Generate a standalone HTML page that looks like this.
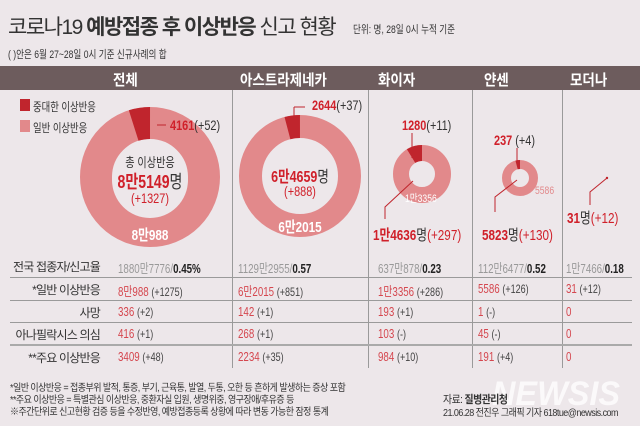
<!DOCTYPE html>
<html><head><meta charset="utf-8"><style>
*{margin:0;padding:0}
body{width:640px;height:426px;background:#ede7ea;position:relative;overflow:hidden;font-family:"Liberation Sans","Noto Sans CJK KR",sans-serif;color:#333}
.a{position:absolute;white-space:nowrap}
.s{transform:scaleX(.78);transform-origin:left top}
.sc{transform:scaleX(.78);transform-origin:center top}
.hd{position:absolute;top:66px;height:24px;background:#6d5c5d;left:0;width:640px}
.ht{position:absolute;top:69px;color:#fff;font-weight:bold;font-size:15px;white-space:nowrap;transform:scaleX(.9);transform-origin:left top}
.lb{position:absolute;right:540px;font-size:12px;color:#333;letter-spacing:-0.8px;white-space:nowrap}
.v{position:absolute;font-size:13px;color:#d5474f;white-space:nowrap;transform:scaleX(.75);transform-origin:left top}
.v i{font-style:normal;color:#444;font-size:12px}
.g{color:#999}.b{color:#222;font-weight:bold}
.ft{position:absolute;left:10px;font-size:10px;color:#333;letter-spacing:-0.6px;white-space:nowrap;transform:scaleX(.9);transform-origin:left top}
.r{color:#d0202a;font-weight:bold}
</style></head><body>
<div class="a" style="left:8px;top:11px;font-size:21px;color:#333;letter-spacing:-1.5px">코로나19 <b>예방접종 후 이상반응</b> 신고 현황</div>
<div class="a s" style="left:353px;top:21px;font-size:11px">단위: 명, 28일 0시 누적 기준</div>
<div class="a s" style="left:8px;top:46px;font-size:11px">( )안은 6월 27~28일 0시 기준 신규사례의 합</div>
<div class="hd"></div>
<div class="ht" style="left:113px">전체</div>
<div class="ht" style="left:240px">아스트라제네카</div>
<div class="ht" style="left:378px">화이자</div>
<div class="ht" style="left:484px">얀센</div>
<div class="ht" style="left:570px">모더나</div>

<svg class="a" style="left:0;top:0" width="640" height="426">
<g stroke="#9a9a9a" stroke-width="1">
<line x1="232.5" y1="90" x2="232.5" y2="368"/><line x1="368.5" y1="90" x2="368.5" y2="368"/>
<line x1="472.5" y1="90" x2="472.5" y2="368"/><line x1="562.5" y1="90" x2="562.5" y2="368"/>
<line x1="10" y1="277.5" x2="632" y2="277.5"/><line x1="10" y1="300.5" x2="632" y2="300.5"/>
<line x1="10" y1="322.5" x2="632" y2="322.5"/>
</g>
<line x1="10" y1="345" x2="632" y2="345" stroke="#aaa" stroke-width="2"/>
<rect x="20" y="99" width="10" height="12" fill="#c0252d"/>
<rect x="20" y="120" width="10" height="12" fill="#e2898b"/>
<circle cx="150" cy="177" r="54" fill="none" stroke="#e2898b" stroke-width="32"/>
<circle cx="150" cy="177" r="54" fill="none" stroke="#c0252d" stroke-width="32" stroke-dasharray="16.6 400" transform="rotate(-107.6 150 177)"/>
<circle cx="150" cy="180" r="38" fill="#ede7ea"/>
<line x1="157" y1="125" x2="166" y2="125" stroke="#c0252d"/>
<circle cx="300" cy="176" r="49.5" fill="none" stroke="#e2898b" stroke-width="23"/>
<circle cx="300" cy="176" r="49.5" fill="none" stroke="#c0252d" stroke-width="23" stroke-dasharray="12.7 400" transform="rotate(-104.7 300 176)"/>
<line x1="305" y1="107" x2="294" y2="107" stroke="#c0252d"/><line x1="294" y1="107" x2="294" y2="125" stroke="#c0252d"/>
<circle cx="422" cy="174" r="21" fill="none" stroke="#e2898b" stroke-width="16"/>
<circle cx="422" cy="174" r="21" fill="none" stroke="#c0252d" stroke-width="16" stroke-dasharray="11.5 400" transform="rotate(-121.4 422 174)"/>
<line x1="412" y1="133" x2="412" y2="158" stroke="#c0252d"/>
<polyline points="413,181 385,207 385,219" fill="none" stroke="#c0252d"/>
<circle cx="520" cy="178" r="13.5" fill="none" stroke="#e2898b" stroke-width="9"/>
<circle cx="520" cy="178" r="13.5" fill="none" stroke="#c0252d" stroke-width="9" stroke-dasharray="3.5 400" transform="rotate(-104.7 520 178)"/>
<line x1="517" y1="148" x2="517" y2="162" stroke="#c0252d"/>
<polyline points="517,180 495,197 495,212" fill="none" stroke="#c0252d"/>
<circle cx="607" cy="178" r="1.2" fill="#c0252d"/>
<polyline points="607,178 590,192 590,205" fill="none" stroke="#c0252d"/>
<text x="492" y="405" font-family="Liberation Sans" font-weight="bold" font-style="italic" font-size="34" fill="#fff" fill-opacity="0.75" textLength="128" lengthAdjust="spacingAndGlyphs">NEWSIS</text>
</svg>

<div class="a s" style="left:33px;top:98px;font-size:12px">중대한 이상반응</div>
<div class="a s" style="left:33px;top:119px;font-size:12px">일반 이상반응</div>

<div class="a s" style="left:170px;top:117px;font-size:14px"><span class="r">4161</span>(+52)</div>
<div class="a sc" style="left:90px;top:152px;width:120px;text-align:center;font-size:13px">총 이상반응</div>
<div class="a sc" style="left:90px;top:168px;width:120px;text-align:center;font-size:18px"><span class="r">8만5149</span>명</div>
<div class="a sc" style="left:90px;top:190px;width:120px;text-align:center;font-size:14px;color:#d0202a">(+1327)</div>
<div class="a sc" style="left:90px;top:224px;width:120px;text-align:center;font-size:15px;color:#fff;font-weight:bold">8만988</div>

<div class="a s" style="left:312px;top:97px;font-size:14px"><span class="r">2644</span>(+37)</div>
<div class="a sc" style="left:240px;top:163px;width:120px;text-align:center;font-size:16px"><span class="r">6만4659</span>명</div>
<div class="a sc" style="left:240px;top:183px;width:120px;text-align:center;font-size:14px;color:#d0202a">(+888)</div>
<div class="a sc" style="left:240px;top:216px;width:120px;text-align:center;font-size:15px;color:#fff;font-weight:bold">6만2015</div>

<div class="a s" style="left:402px;top:117px;font-size:14px"><span class="r">1280</span>(+11)</div>
<div class="a s" style="left:405px;top:190px;font-size:11px;color:#fff">1만3356</div>
<div class="a s" style="left:373px;top:224px;font-size:15px"><span class="r">1만4636</span>명<span style="color:#d0202a">(+297)</span></div>

<div class="a s" style="left:494px;top:132px;font-size:14px"><span class="r">237</span> (+4)</div>
<div class="a s" style="left:535px;top:185px;font-size:11px;color:#e2898b">5586</div>
<div class="a s" style="left:482px;top:224px;font-size:15px"><span class="r">5823</span>명<span style="color:#d0202a">(+130)</span></div>

<div class="a s" style="left:567px;top:207px;font-size:15px"><span class="r">31</span>명<span style="color:#d0202a">(+12)</span></div>

<div class="lb" style="top:258px">전국 접종자/신고율</div>
<div class="lb" style="top:281px">*일반 이상반응</div>
<div class="lb" style="top:304px">사망</div>
<div class="lb" style="top:326px">아나필락시스 의심</div>
<div class="lb" style="top:349px">**주요 이상반응</div>

<div class="v" style="left:118px;top:258px"><span class="g">1880만7776/</span><span class="b">0.45%</span></div>
<div class="v" style="left:238px;top:258px"><span class="g">1129만2955/</span><span class="b">0.57</span></div>
<div class="v" style="left:378px;top:258px"><span class="g">637만878/</span><span class="b">0.23</span></div>
<div class="v" style="left:478px;top:258px"><span class="g">112만6477/</span><span class="b">0.52</span></div>
<div class="v" style="left:566px;top:258px"><span class="g">1만7466/</span><span class="b">0.18</span></div>

<div class="v" style="left:118px;top:281px">8만988 <i>(+1275)</i></div>
<div class="v" style="left:238px;top:281px">6만2015 <i>(+851)</i></div>
<div class="v" style="left:378px;top:281px">1만3356 <i>(+286)</i></div>
<div class="v" style="left:478px;top:281px">5586 <i>(+126)</i></div>
<div class="v" style="left:566px;top:281px">31 <i>(+12)</i></div>

<div class="v" style="left:118px;top:304px">336 <i>(+2)</i></div>
<div class="v" style="left:238px;top:304px">142 <i>(+1)</i></div>
<div class="v" style="left:378px;top:304px">193 <i>(+1)</i></div>
<div class="v" style="left:478px;top:304px">1 <i>(-)</i></div>
<div class="v" style="left:566px;top:304px">0</div>

<div class="v" style="left:118px;top:326px">416 <i>(+1)</i></div>
<div class="v" style="left:238px;top:326px">268 <i>(+1)</i></div>
<div class="v" style="left:378px;top:326px">103 <i>(-)</i></div>
<div class="v" style="left:478px;top:326px">45 <i>(-)</i></div>
<div class="v" style="left:566px;top:326px">0</div>

<div class="v" style="left:118px;top:349px">3409 <i>(+48)</i></div>
<div class="v" style="left:238px;top:349px">2234 <i>(+35)</i></div>
<div class="v" style="left:378px;top:349px">984 <i>(+10)</i></div>
<div class="v" style="left:478px;top:349px">191 <i>(+4)</i></div>
<div class="v" style="left:566px;top:349px">0</div>

<div class="ft" style="top:379px">*일반 이상반응 = 접종부위 발적, 통증, 부기, 근육통, 발열, 두통, 오한 등 흔하게 발생하는 증상 포함</div>
<div class="ft" style="top:391px">**주요 이상반응 = 특별관심 이상반응, 중환자실 입원, 생명위중, 영구장애/후유증 등</div>
<div class="ft" style="top:403px">※주간단위로 신고현황 검증 등을 수정반영, 예방접종등록 상황에 따라 변동 가능한 잠정 통계</div>
<div class="ft" style="left:443px;top:391px;font-size:11px">자료: <b>질병관리청</b></div>
<div class="ft" style="left:443px;top:404px">21.06.28 전진우 그래픽 기자 618tue@newsis.com</div>
</body></html>
